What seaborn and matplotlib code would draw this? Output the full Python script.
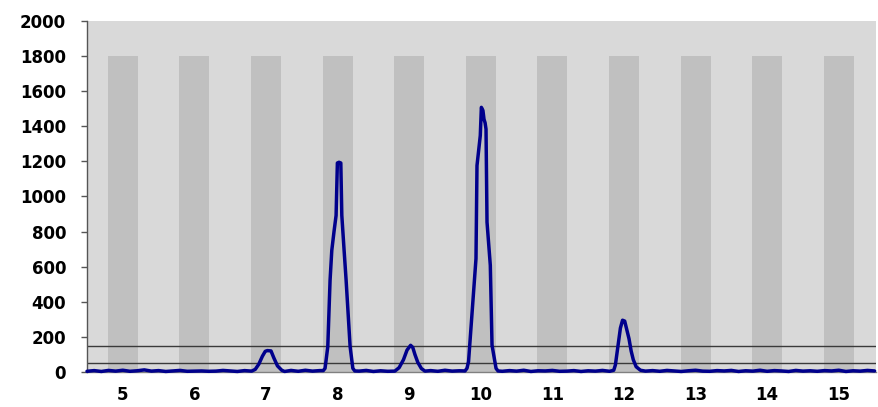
import matplotlib
matplotlib.use("Agg")
import matplotlib.pyplot as plt
import seaborn as sns
import pandas as pd
import numpy as np

# ---- data ----
band_positions = [5, 6, 7, 8, 9, 10, 11, 12, 13, 14, 15]
band_heights = [1800] * 11
threshold_levels = [50, 150]

base1_x = [4.5, 4.6, 4.7, 4.8, 4.9, 5.0, 5.1, 5.2, 5.3, 5.4, 5.5, 5.6, 5.7, 5.8, 5.9, 6.0, 6.1, 6.2, 6.3, 6.4, 6.5, 6.6, 6.7]
base1_y = [4, 8, 3, 9, 5, 10, 4, 7, 12, 5, 8, 3, 6, 9, 4, 5, 6, 4, 5, 9, 6, 3, 8]
peak7_x = [6.80, 6.85, 6.90, 6.95, 6.99, 7.02, 7.07, 7.11, 7.16, 7.22, 7.26]
peak7_y = [5, 15, 45, 90, 118, 122, 120, 80, 35, 10, 3]
base2_x = [7.35, 7.45, 7.55, 7.65, 7.75]
base2_y = [9, 4, 10, 5, 8]
peak8_x = [7.80, 7.825, 7.863, 7.88, 7.895, 7.919, 7.95, 7.979, 7.997, 8.02, 8.045, 8.059, 8.075, 8.091, 8.119, 8.14, 8.175, 8.213, 8.24]
peak8_y = [8, 21, 144, 350, 523, 693, 800, 892, 1191, 1195, 1191, 892, 790, 693, 523, 380, 144, 21, 6]
base3_x = [8.3, 8.4, 8.5, 8.6, 8.7]
base3_y = [5, 9, 3, 7, 4]
peak9_x = [8.80, 8.86, 8.92, 8.97, 9.02, 9.05, 9.08, 9.12, 9.17, 9.22]
peak9_y = [5, 25, 70, 125, 152, 140, 100, 55, 20, 5]
base4_x = [9.3, 9.4, 9.5, 9.6, 9.7]
base4_y = [8, 4, 10, 5, 7]
peak10_x = [9.78, 9.807, 9.829, 9.85, 9.867, 9.90, 9.933, 9.947, 9.97, 9.993, 10.008, 10.03, 10.045, 10.06, 10.073, 10.08, 10.087, 10.11, 10.133, 10.157, 10.189, 10.213, 10.24]
peak10_y = [6, 21, 59, 180, 286, 460, 646, 1176, 1260, 1347, 1508, 1490, 1440, 1420, 1384, 1100, 854, 730, 608, 153, 78, 21, 6]
base5_x = [10.3, 10.4, 10.5, 10.6, 10.7, 10.8, 10.9, 11.0, 11.1, 11.2, 11.3, 11.4, 11.5, 11.6, 11.7]
base5_y = [4, 8, 5, 10, 3, 7, 6, 9, 4, 5, 8, 3, 7, 5, 9]
peak12_x = [11.80, 11.857, 11.88, 11.91, 11.95, 11.98, 12.01, 12.04, 12.07, 12.10, 12.13, 12.17, 12.23]
peak12_y = [4, 10, 40, 130, 250, 295, 290, 240, 190, 120, 70, 30, 10]
base6_x = [12.3, 12.4, 12.5, 12.6, 12.7, 12.8, 12.9, 13.0, 13.1, 13.2, 13.3, 13.4, 13.5, 13.6, 13.7, 13.8, 13.9, 14.0, 14.1, 14.2, 14.3, 14.4, 14.5, 14.6, 14.7, 14.8, 14.9, 15.0, 15.1, 15.2, 15.3, 15.4, 15.5]
base6_y = [5, 8, 4, 9, 6, 3, 7, 10, 5, 4, 8, 6, 9, 3, 7, 5, 10, 4, 8, 6, 3, 9, 5, 7, 4, 8, 6, 10, 3, 7, 5, 9, 6]

y_ticks = [0, 200, 400, 600, 800, 1000, 1200, 1400, 1600, 1800, 2000]
x_ticks = [5, 6, 7, 8, 9, 10, 11, 12, 13, 14, 15]

trace_x = base1_x + peak7_x + base2_x + peak8_x + base3_x + peak9_x + base4_x + peak10_x + base5_x + peak12_x + base6_x
trace_y = base1_y + peak7_y + base2_y + peak8_y + base3_y + peak9_y + base4_y + peak10_y + base5_y + peak12_y + base6_y
trace = pd.DataFrame({"x": trace_x, "y": trace_y})
bands = pd.DataFrame({"pos": band_positions, "h": band_heights})

# ---- figure ----
sns.set_style("white")
plt.rcParams["font.family"] = ["DejaVu Sans"]
plt.rcParams["text.color"] = "black"
plt.rcParams["xtick.color"] = "black"
plt.rcParams["ytick.color"] = "black"

fig = plt.figure(figsize=(8.79, 4.07), dpi=100)
ax = fig.add_axes([87 / 879, 35 / 407, (876 - 87) / 879, (372 - 21) / 407])
ax.set_facecolor("#d9d9d9")

sns.barplot(data=bands, x="pos", y="h", native_scale=True, width=0.42,
            color="#c0c0c0", saturation=1, errorbar=None, ax=ax, zorder=1)
for p in ax.patches:
    p.set_edgecolor("none")
    p.set_linewidth(0)

for lvl in threshold_levels:
    ax.axhline(lvl, color="#3a3a3a", lw=1.0, zorder=2)

sns.lineplot(data=trace, x="x", y="y", sort=False, estimator=None,
             color="#00008c", lw=2.5, ax=ax, zorder=3, clip_on=False,
             solid_joinstyle="round")

ax.set_xlim(4.5, 15.52)
ax.set_ylim(0, 2000)
ax.set_xticks(x_ticks)
ax.set_yticks(y_ticks)
ax.set_xticklabels([str(t) for t in x_ticks], fontsize=12, fontweight="bold", color="black")
ax.set_yticklabels([str(t) for t in y_ticks], fontsize=12, fontweight="bold", color="black")
ax.tick_params(axis="y", direction="out", length=4, width=1, color="#555555", pad=11, left=True)
ax.tick_params(axis="x", length=0, pad=10)
ax.set_xlabel("")
ax.set_ylabel("")

for side in ["top", "right"]:
    ax.spines[side].set_visible(False)
ax.spines["left"].set_color("#555555")
ax.spines["bottom"].set_color("#808080")
ax.spines["left"].set_linewidth(1)
ax.spines["bottom"].set_linewidth(1)

fig.savefig("out.png", dpi=100)
